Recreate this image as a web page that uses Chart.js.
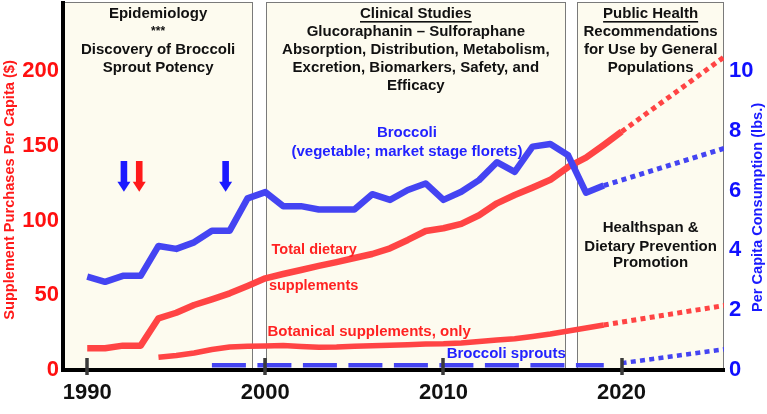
<!DOCTYPE html>
<html>
<head>
<meta charset="utf-8">
<script src="https://cdn.jsdelivr.net/npm/chart.js@4.4.1/dist/chart.umd.min.js"></script>
<style>
    html, body { margin: 0; padding: 0; background: #fff; }
    #chart { display: block; }
</style>
</head>
<body>
<canvas id="chart" width="767" height="414"></canvas>
<script>
// Broccoli, vegetable (lbs per capita, right axis)
const broccoliYears = [1990, 1991, 1992, 1993, 1994, 1995, 1996, 1997, 1998, 1999, 2000, 2001, 2002, 2003, 2004,
    2005, 2006, 2007, 2008, 2009, 2010, 2011, 2012, 2013, 2014, 2015, 2016, 2017, 2018, 2019];
const broccoliLbs = [3.12, 2.95, 3.15, 3.15, 4.15, 4.05, 4.27, 4.66, 4.66, 5.74, 5.95, 5.48, 5.48, 5.37, 5.37,
    5.37, 5.88, 5.69, 6.02, 6.24, 5.69, 5.96, 6.35, 6.95, 6.63, 7.47, 7.56, 7.18, 5.93, 6.17];

// Total dietary supplements ($ per capita, left axis)
const totalYears = [1990, 1991, 1992, 1993, 1994, 1995, 1996, 1997, 1998, 1999, 2000, 2001, 2002, 2003, 2004, 2005,
    2006, 2007, 2008, 2009, 2010, 2011, 2012, 2013, 2014, 2015, 2016, 2017, 2018, 2019, 2020];
const totalDollars = [14.5, 14.5, 16.3, 16.3, 34.6, 38.3, 43.5, 47.3, 51.3, 56.2, 61.3, 64.2, 66.9, 69.6, 72.2, 74.9,
    77.6, 81.4, 87.0, 93.0, 94.8, 97.7, 103.5, 111.5, 117.1, 122.0, 127.2, 135.8, 142.0, 150.5, 159.4];

// Botanical supplements only ($ per capita, left axis)
const botanicalYears = [1994, 1995, 1996, 1997, 1998, 1999, 2000, 2001, 2002, 2003, 2004, 2005, 2006,
    2007, 2008, 2009, 2010, 2011, 2012, 2013, 2014, 2015, 2016, 2017, 2018, 2019];
const botanicalDollars = [8.5, 9.7, 11.4, 13.7, 15.4, 15.9, 16.1, 16.4, 15.7, 15.2, 15.4, 15.9, 16.3,
    16.5, 16.9, 17.4, 17.6, 18.1, 19.1, 20.1, 20.9, 22.4, 24.1, 26.1, 28.1, 30.1];

// Broccoli sprouts (lbs per capita, right axis)
const sproutYears = [1997, 1998, 1999, 2000, 2001, 2002, 2003, 2004, 2005, 2006, 2007, 2008,
    2009, 2010, 2011, 2012, 2013, 2014, 2015, 2016, 2017, 2018, 2019];
const sproutLbs = [0.16, 0.16, 0.16, 0.16, 0.16, 0.16, 0.16, 0.16, 0.16, 0.16, 0.16, 0.16,
    0.16, 0.16, 0.16, 0.16, 0.16, 0.16, 0.16, 0.16, 0.16, 0.16, 0.16];

// Projections (dotted)
const broccoliProjYears = [2019, 2026];
const broccoliProjLbs = [6.17, 7.46];
const totalProjYears = [2020, 2026];
const totalProjDollars = [159.4, 211.5];
const botanicalProjYears = [2019, 2026];
const botanicalProjDollars = [30.1, 43.6];
const sproutProjYears = [2020, 2026];
const sproutProjLbs = [0.23, 0.71];

// Axis ticks
const xTicks = [1990, 2000, 2010, 2020];
const leftTicks = [0, 50, 100, 150, 200];
const rightTicks = [0, 2, 4, 6, 8, 10];

// Research phases
const phaseStarts = [1988.64, 2000.02, 2017.51];
const phaseEnds = [1999.32, 2016.88, 2025.75];
const phaseTitles = ['Epidemiology', 'Clinical Studies', 'Public Health'];
const phaseNotes = [
    ['***', 'Discovery of Broccoli', 'Sprout Potency'],
    ['Glucoraphanin \u2013 Sulforaphane', 'Absorption, Distribution, Metabolism,', 'Excretion, Biomarkers, Safety, and', 'Efficacy'],
    ['Recommendations', 'for Use by General', 'Populations']
];

// Arrows (years)
const arrowYears = [1992.06, 1992.92, 1997.77];
const arrowColors = ['#1a1aff', '#ff1a1a', '#1a1aff'];

const FONT = '"Liberation Sans", Arial, sans-serif';
const BLUE = '#4444f2';
const RED = '#ff4444';
const BLUE_TEXT = '#2222ff';
const RED_TEXT = '#ff2222';

// free text, positioned in data units (year, left-axis value)
const labels = [
    { text: 'Broccoli', x: 2007.95, y: 158.3, color: BLUE_TEXT, align: 'center' },
    { text: '(vegetable; market stage florets)', x: 2007.95, y: 146.0, color: BLUE_TEXT, align: 'center' },
    { text: 'Total dietary', x: 2000.35, y: 80.3, color: RED_TEXT, align: 'left', size: 14.5 },
    { text: 'supplements', x: 2000.2, y: 56.2, color: RED_TEXT, align: 'left', size: 14.5 },
    { text: 'Botanical supplements, only', x: 2000.12, y: 25.6, color: RED_TEXT, align: 'left' },
    { text: 'Broccoli sprouts', x: 2010.18, y: 10.7, color: BLUE_TEXT, align: 'left' },
    { text: 'Healthspan &', x: 2021.63, y: 94.8, color: '#111', align: 'center' },
    { text: 'Dietary Prevention', x: 2021.63, y: 82.5, color: '#111', align: 'center' },
    { text: 'Promotion', x: 2021.63, y: 71.4, color: '#111', align: 'center' }
];

const pts = (xs, ys) => xs.map((x, i) => ({ x: x, y: ys[i] }));

const decorations = {
    id: 'decorations',
    beforeDraw(chart) {
        const { ctx, chartArea, scales: { x } } = chart;
        ctx.save();
        phaseStarts.forEach((start, i) => {
            const left = Math.round(x.getPixelForValue(Math.max(start, x.min)));
            const right = Math.round(x.getPixelForValue(Math.min(phaseEnds[i], x.max)));
            const h = chartArea.bottom - chartArea.top;
            ctx.fillStyle = '#fdfbef';
            ctx.fillRect(left, chartArea.top, right - left, h);
            ctx.strokeStyle = '#7a7a7a';
            ctx.lineWidth = 1;
            ctx.strokeRect(left + 0.5, chartArea.top - 0.5, right - left - 1, h);
        });
        ctx.restore();
    },
    afterDatasetsDraw(chart) {
        const { ctx, chartArea, scales: { x, y } } = chart;
        ctx.save();
        ctx.textBaseline = 'middle';

        // phase headings
        phaseStarts.forEach((start, i) => {
            const left = x.getPixelForValue(Math.max(start, x.min));
            const right = x.getPixelForValue(Math.min(phaseEnds[i], x.max));
            const cx = (left + right) / 2;
            ctx.fillStyle = '#111';
            ctx.textAlign = 'center';
            ctx.font = 'bold 15px ' + FONT;
            ctx.fillText(phaseTitles[i], cx, chartArea.top + 11);
            if (i > 0) {
                const w = ctx.measureText(phaseTitles[i]).width;
                ctx.fillRect(cx - w / 2, chartArea.top + 18, w, 1.6);
            }
            phaseNotes[i].forEach((line, j) => {
                ctx.font = (line === '***' ? 'bold 12px ' : 'bold 15px ') + FONT;
                ctx.fillText(line, cx, chartArea.top + 29 + 18 * j);
            });
        });

        // series labels
        labels.forEach(l => {
            ctx.font = 'bold ' + (l.size || 15) + 'px ' + FONT;
            ctx.fillStyle = l.color;
            ctx.textAlign = l.align;
            ctx.fillText(l.text, x.getPixelForValue(l.x), y.getPixelForValue(l.y));
        });

        // arrows
        const top = y.getPixelForValue(139.8);
        const tip = y.getPixelForValue(119.2);
        arrowYears.forEach((yr, i) => {
            const ax = x.getPixelForValue(yr);
            ctx.fillStyle = arrowColors[i];
            ctx.fillRect(ax - 3.3, top, 6.6, tip - top - 9);
            ctx.beginPath();
            ctx.moveTo(ax - 6.5, tip - 10);
            ctx.lineTo(ax + 6.5, tip - 10);
            ctx.lineTo(ax, tip);
            ctx.closePath();
            ctx.fill();
        });
        ctx.restore();
    },
    afterDraw(chart) {
        const { ctx, chartArea, scales: { x } } = chart;
        ctx.save();
        // small tick marks across the x axis
        ctx.strokeStyle = '#3a3a3a';
        ctx.lineWidth = 3.5;
        xTicks.forEach(v => {
            const px = Math.round(x.getPixelForValue(v));
            ctx.beginPath();
            ctx.moveTo(px, chartArea.bottom - 12);
            ctx.lineTo(px, chartArea.bottom + 5);
            ctx.stroke();
        });

        // axis titles, both reading bottom to top
        ctx.font = 'bold 14.6px ' + FONT;
        ctx.textAlign = 'center';
        ctx.textBaseline = 'middle';
        ctx.fillStyle = '#ff1a1a';
        ctx.translate(10, 190);
        ctx.rotate(-Math.PI / 2);
        ctx.fillText('Supplement Purchases Per Capita ($)', 0, 0);
        ctx.setTransform(1, 0, 0, 1, 0, 0);
        ctx.fillStyle = '#1a1aff';
        ctx.translate(757.5, 207.5);
        ctx.rotate(-Math.PI / 2);
        ctx.fillText('Per Capita Consumption (lbs.)', 0, 0);
        ctx.restore();
    }
};

const solid = (data, axis, color, width) => ({
    data: data, yAxisID: axis, borderColor: color, borderWidth: width,
    pointRadius: 0, tension: 0, borderJoinStyle: 'round', borderCapStyle: 'butt'
});
const dashed = (data, axis, color, width, dash) => ({
    data: data, yAxisID: axis, borderColor: color, borderWidth: width, borderDash: dash,
    pointRadius: 0, tension: 0, borderCapStyle: 'butt', clip: 0
});

// fixed scale sizes so the plot area lines up with the reference
const fixSize = (w, h) => s => {
    if (w !== null) s.width = w;
    if (h !== null) s.height = h;
    s.paddingTop = 0;
    s.paddingBottom = 0;
    s.paddingLeft = 0;
    s.paddingRight = 0;
};

Chart.defaults.font.family = FONT;

new Chart(document.getElementById('chart'), {
    type: 'line',
    data: {
        datasets: [
            solid(pts(broccoliYears, broccoliLbs), 'y2', BLUE, 6.5),
            solid(pts(totalYears, totalDollars), 'y', RED, 6.5),
            solid(pts(botanicalYears, botanicalDollars), 'y', RED, 5.5),
            dashed(pts(sproutYears, sproutLbs), 'y2', BLUE, 4.5, [34, 11.5]),
            dashed(pts(broccoliProjYears, broccoliProjLbs), 'y2', BLUE, 5, [5, 4.3]),
            dashed(pts(totalProjYears, totalProjDollars), 'y', RED, 5, [5, 4.3]),
            dashed(pts(botanicalProjYears, botanicalProjDollars), 'y', RED, 5, [5, 4.3]),
            dashed(pts(sproutProjYears, sproutProjLbs), 'y2', BLUE, 4.5, [5, 4.3])
        ]
    },
    options: {
        responsive: false,
        animation: false,
        devicePixelRatio: 1,
        layout: { padding: { top: 3, left: 0, right: 0, bottom: 0 } },
        plugins: {
            legend: { display: false },
            tooltip: { enabled: false }
        },
        scales: {
            x: {
                type: 'linear',
                min: 1988.64,
                max: 2025.75,
                afterBuildTicks: s => { s.ticks = xTicks.map(v => ({ value: v })); },
                afterFit: fixSize(null, 44),
                grid: { display: false, drawTicks: false },
                border: { display: true, color: '#000', width: 4, z: 1 },
                ticks: {
                    color: '#111', padding: 10, autoSkip: false, maxRotation: 0,
                    font: { size: 22, weight: 'bold' },
                    callback: v => String(v)
                }
            },
            y: {
                type: 'linear',
                position: 'left',
                min: 0,
                max: 245.5,
                afterBuildTicks: s => { s.ticks = leftTicks.map(v => ({ value: v })); },
                afterFit: fixSize(63, null),
                grid: { display: false, drawTicks: false },
                border: { display: true, color: '#000', width: 4, z: 1 },
                ticks: {
                    color: '#ff1010', padding: 4,
                    font: { size: 22, weight: 'bold' },
                    callback: v => String(v)
                }
            },
            y2: {
                type: 'linear',
                position: 'right',
                min: 0,
                max: 245.5 / 20,
                afterBuildTicks: s => { s.ticks = rightTicks.map(v => ({ value: v })); },
                afterFit: fixSize(43, null),
                grid: { display: false, drawTicks: false },
                border: { display: false },
                ticks: {
                    color: '#1010ff', padding: 5,
                    font: { size: 22, weight: 'bold' },
                    callback: v => String(v)
                }
            }
        }
    },
    plugins: [decorations]
});
</script>
</body>
</html>
